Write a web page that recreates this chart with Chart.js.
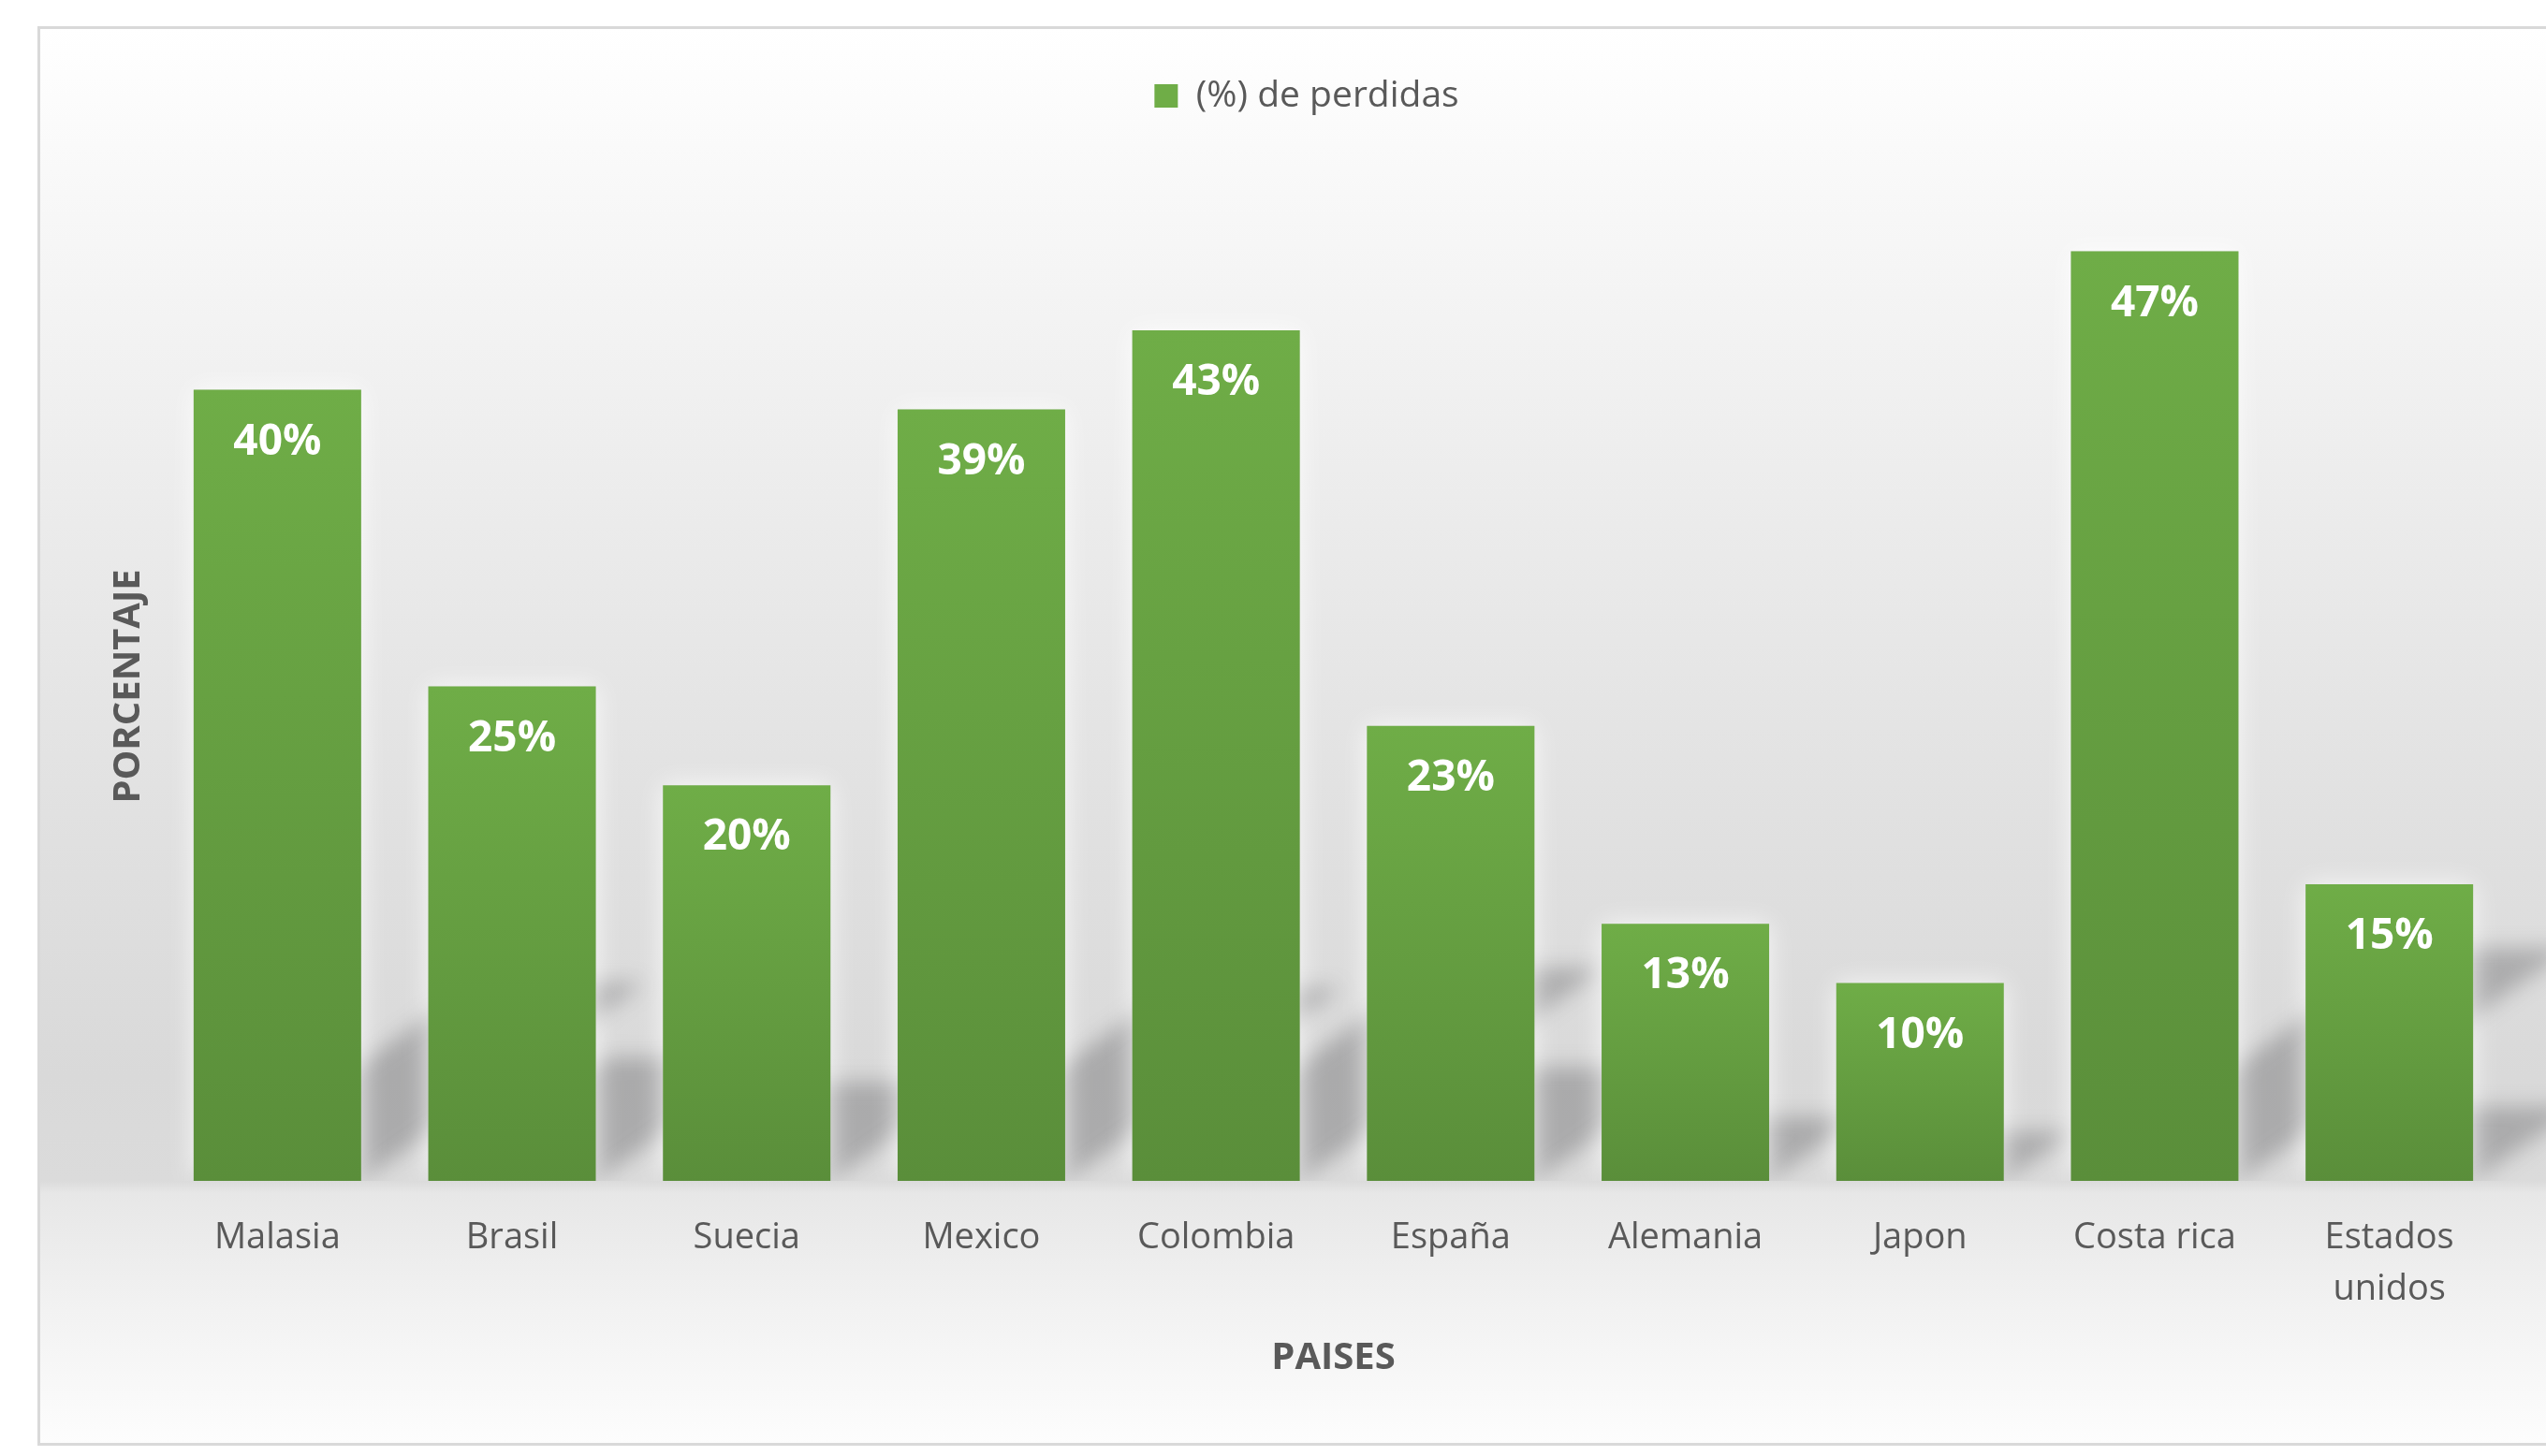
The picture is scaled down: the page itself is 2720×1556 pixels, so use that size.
<!DOCTYPE html>
<html>
<head>
<meta charset="utf-8">
<script src="https://cdn.jsdelivr.net/npm/chart.js@4.4.0/dist/chart.umd.min.js"></script>
<style>
html,body{margin:0;padding:0;background:#fff;overflow:hidden}
canvas{display:block}
</style>
</head>
<body>
<canvas id="c" width="2720" height="1556"></canvas>
<script>
// ---- data ----
const categories = ['Malasia','Brasil','Suecia','Mexico','Colombia','España','Alemania','Japon','Costa rica','Estados unidos'];
const lossPercent = [40, 25, 20, 39, 43, 23, 13, 10, 47, 15];
const seriesName = '(%) de perdidas';
const xTitle = 'PAISES';
const yTitle = 'PORCENTAJE';

const FONT = "'Open Sans', sans-serif";
const TEXT = '#595959';

const framePlugin = {
  id: 'frame',
  beforeDraw(chart) {
    const ctx = chart.ctx, W = chart.width, H = chart.height;
    ctx.save();
    ctx.fillStyle = '#ffffff';
    ctx.fillRect(0, 0, W, H);
    const top = 30, bot = 1544;
    const g = ctx.createLinearGradient(0, top, 0, bot);
    const stop = (y, c) => g.addColorStop(Math.min(1, Math.max(0, (y - top) / (bot - top))), c);
    stop(30, '#ffffff');
    stop(180, '#f9f9f9');
    stop(500, '#ededed');
    stop(900, '#e0e0e0');
    stop(1150, '#d9d9d9');
    stop(1262, '#dbdbdb');
    stop(1275, '#e7e7e7');
    stop(1400, '#f2f2f2');
    stop(1544, '#fdfdfd');
    ctx.fillStyle = g;
    ctx.fillRect(42, top, W, bot - top);
    ctx.strokeStyle = '#d9d9d9';
    ctx.lineWidth = 3;
    ctx.strokeRect(41.5, 29.5, W, 1514);
    ctx.restore();
  }
};

// keeps a fixed band between the legend and the plot, as in the original
const legendBandPlugin = {
  id: 'legendBand',
  beforeLayout(chart) {
    const lg = chart.legend;
    if (lg && !lg._bandPatched) {
      const fit = lg.fit;
      lg.fit = function () { fit.call(this); this.height = 165; };
      lg._bandPatched = true;
    }
  }
};

const shadowPlugin = {
  id: 'barShadows',
  beforeDatasetsDraw(chart) {
    const ctx = chart.ctx;
    const meta = chart.getDatasetMeta(0);
    const bars = meta.data.map(b => b.getProps(['x','y','base','width'], true));
    const base = bars[0].base;
    ctx.save();
    ctx.beginPath();
    ctx.rect(0, 0, chart.width, base);
    ctx.clip();
    // perspective shadows
    ctx.filter = 'blur(11px)';
    ctx.fillStyle = 'rgba(70,70,75,0.32)';
    ctx.beginPath();
    bars.forEach(b => {
      const x0 = b.x - b.width / 2, x1 = b.x + b.width / 2;
      const h = b.base - b.y, dy = h * 0.25, dx = dy / 0.7;
      ctx.moveTo(x0, b.base);
      ctx.lineTo(x1, b.base);
      ctx.lineTo(x1 + dx, b.base - dy);
      ctx.lineTo(x0 + dx, b.base - dy);
      ctx.closePath();
    });
    ctx.fill();
    ctx.filter = 'none';
    // soft light glow around bars
    ctx.shadowColor = 'rgba(255,255,255,0.8)';
    ctx.shadowBlur = 26;
    ctx.fillStyle = '#e0e0e0';
    bars.forEach(b => {
      ctx.fillRect(b.x - b.width / 2, b.y, b.width, b.base - b.y);
    });
    ctx.restore();
  }
};

const labelPlugin = {
  id: 'barLabels',
  afterDatasetsDraw(chart) {
    const ctx = chart.ctx;
    const meta = chart.getDatasetMeta(0);
    ctx.save();
    ctx.font = "bold 46px " + FONT;
    ctx.fillStyle = '#ffffff';
    ctx.textAlign = 'center';
    ctx.textBaseline = 'middle';
    meta.data.forEach((b, i) => {
      const p = b.getProps(['x','y'], true);
      ctx.fillText(lossPercent[i] + '%', p.x, p.y + 56);
    });
    ctx.restore();
  }
};

new Chart(document.getElementById('c'), {
  type: 'bar',
  data: {
    labels: categories,
    datasets: [{
      label: seriesName,
      data: lossPercent,
      backgroundColor: (c) => {
        const ch = c.chart;
        if (c.type !== 'data' || !ch.chartArea) return '#64a040';
        const ys = ch.scales.y;
        const yTop = ys.getPixelForValue(c.raw);
        const yBase = ys.getPixelForValue(0);
        const g = ch.ctx.createLinearGradient(0, yTop, 0, yBase);
        g.addColorStop(0, '#6fad47');
        g.addColorStop(1, '#5a8e3a');
        return g;
      },
      borderWidth: 0,
      barPercentage: 0.714,
      categoryPercentage: 1.0
    }]
  },
  options: {
    responsive: false,
    animation: false,
    devicePixelRatio: 1,
    layout: { padding: { left: 114, right: 42, top: 40, bottom: 0 } },
    plugins: {
      legend: {
        position: 'top',
        labels: {
          font: { family: FONT, size: 39 },
          color: TEXT,
          boxWidth: 25,
          boxHeight: 25,
          padding: 43
        }
      },
      tooltip: { enabled: false }
    },
    scales: {
      x: {
        grid: { display: false, drawTicks: false },
        border: { display: false },
        ticks: {
          font: { family: FONT, size: 38, lineHeight: 1.45 },
          color: TEXT,
          padding: 34,
          maxRotation: 0,
          autoSkip: false,
          callback: function (v) {
            const l = this.getLabelForValue(v);
            return l.length > 11 ? l.split(' ') : l;
          }
        },
        title: {
          display: true,
          text: xTitle,
          font: { family: FONT, size: 40, weight: 'bold' },
          color: TEXT,
          padding: { top: 80, bottom: 80 }
        },
        afterFit(s) { s.height = 294; }
      },
      y: {
        min: 0,
        max: 50,
        grid: { display: false },
        border: { display: false },
        ticks: { display: false },
        title: {
          display: true,
          text: yTitle,
          font: { family: FONT, size: 40, weight: 'bold' },
          color: TEXT,
          padding: { top: 0, bottom: 0 }
        },
        afterFit(s) { s.width = 57; }
      }
    }
  },
  plugins: [framePlugin, legendBandPlugin, shadowPlugin, labelPlugin]
});
</script>
</body>
</html>
